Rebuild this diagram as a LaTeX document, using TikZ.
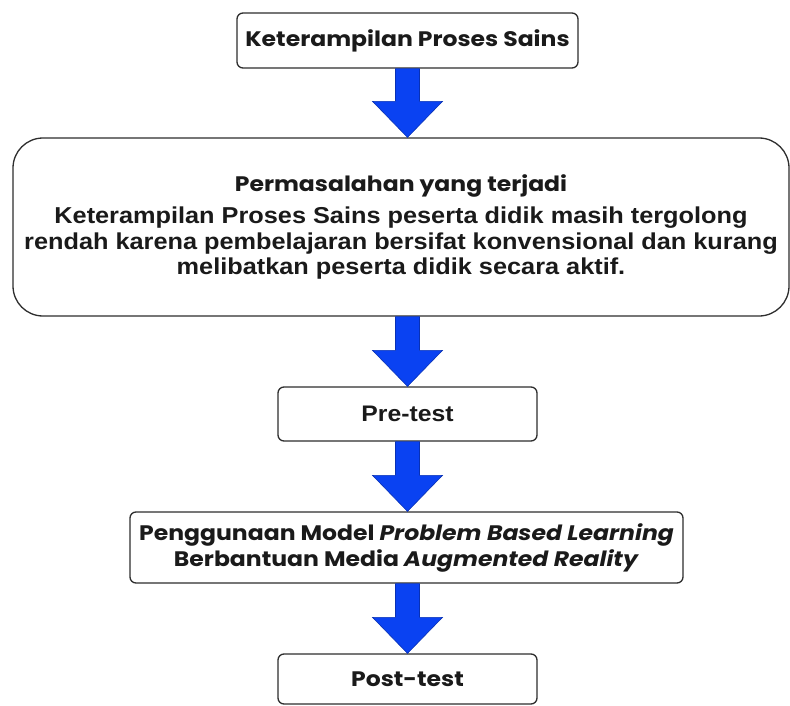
\documentclass[tikz,border=0pt]{standalone}
\usepackage{fontspec}
\setmainfont{Liberation Sans}[FakeStretch=1.1]
\newfontfamily\casualfont{Poppins}[FakeStretch=1.12]
\usetikzlibrary{calc}
\definecolor{kpsInk}{HTML}{1A1A1A}
\definecolor{kpsEdge}{HTML}{2E2E2E}
\definecolor{kpsBlue}{HTML}{0A42F2}
\tikzset{
    box/.style={draw=kpsEdge, line width=1.3pt, rounded corners=6pt, fill=white, align=center, text=kpsInk, inner sep=0pt},
    bigbox/.style={box, rounded corners=30pt},
    casual/.style={font=\casualfont\bfseries\fontsize{21}{27}\selectfont},
    plain/.style={font=\bfseries\fontsize{23}{25.5}\selectfont},
    blockarrow/.style={fill=kpsBlue, draw=kpsBlue!75!black, line width=0.6pt}
}

\begin{document}
\begin{tikzpicture}[x=1pt, y=-1pt]
\useasboundingbox (0,0) rectangle (790,706);
\coordinate (axis) at (407.5,0);
\node[box, casual, minimum width=341pt, minimum height=55pt] (kps) at (407.5,40.5) {Keterampilan Proses Sains};
\node[bigbox, plain, minimum width=776pt, minimum height=178pt] (masalah) at (401,227)
    {{\casualfont\bfseries\fontsize{21}{25.5}\selectfont Permasalahan yang terjadi}\\[7pt]
     Keterampilan Proses Sains peserta didik masih tergolong\\
     rendah karena pembelajaran bersifat konvensional dan kurang\\
     melibatkan peserta didik secara aktif.};
\node[box, font=\bfseries\fontsize{22.5}{25}\selectfont, minimum width=259pt, minimum height=54pt] (pretest) at (407.5,414) {Pre-test};
\node[box, casual, minimum width=553pt, minimum height=71pt] (pbl) at (406.5,547.5)
    {Penggunaan Model \textit{Problem Based Learning}\\[-1pt]
     Berbantuan Media \textit{Augmented Reality}};
\node[box, casual, minimum width=259pt, minimum height=50pt] (posttest) at (407.5,679) {Post-test};
% block arrows between the boxes
\foreach \a/\b in {kps/masalah, masalah/pretest, pretest/pbl, pbl/posttest}
    \fill[blockarrow] let \p0=(axis), \p1=(\a.south), \p2=(\b.north) in
        (\x0-12pt,\y1) -- (\x0+12pt,\y1) -- (\x0+12pt,\y2+36pt) -- (\x0+35pt,\y2+36pt)
        -- (\x0,\y2) -- (\x0-35pt,\y2+36pt) -- (\x0-12pt,\y2+36pt) -- cycle;
\end{tikzpicture}
\end{document}
